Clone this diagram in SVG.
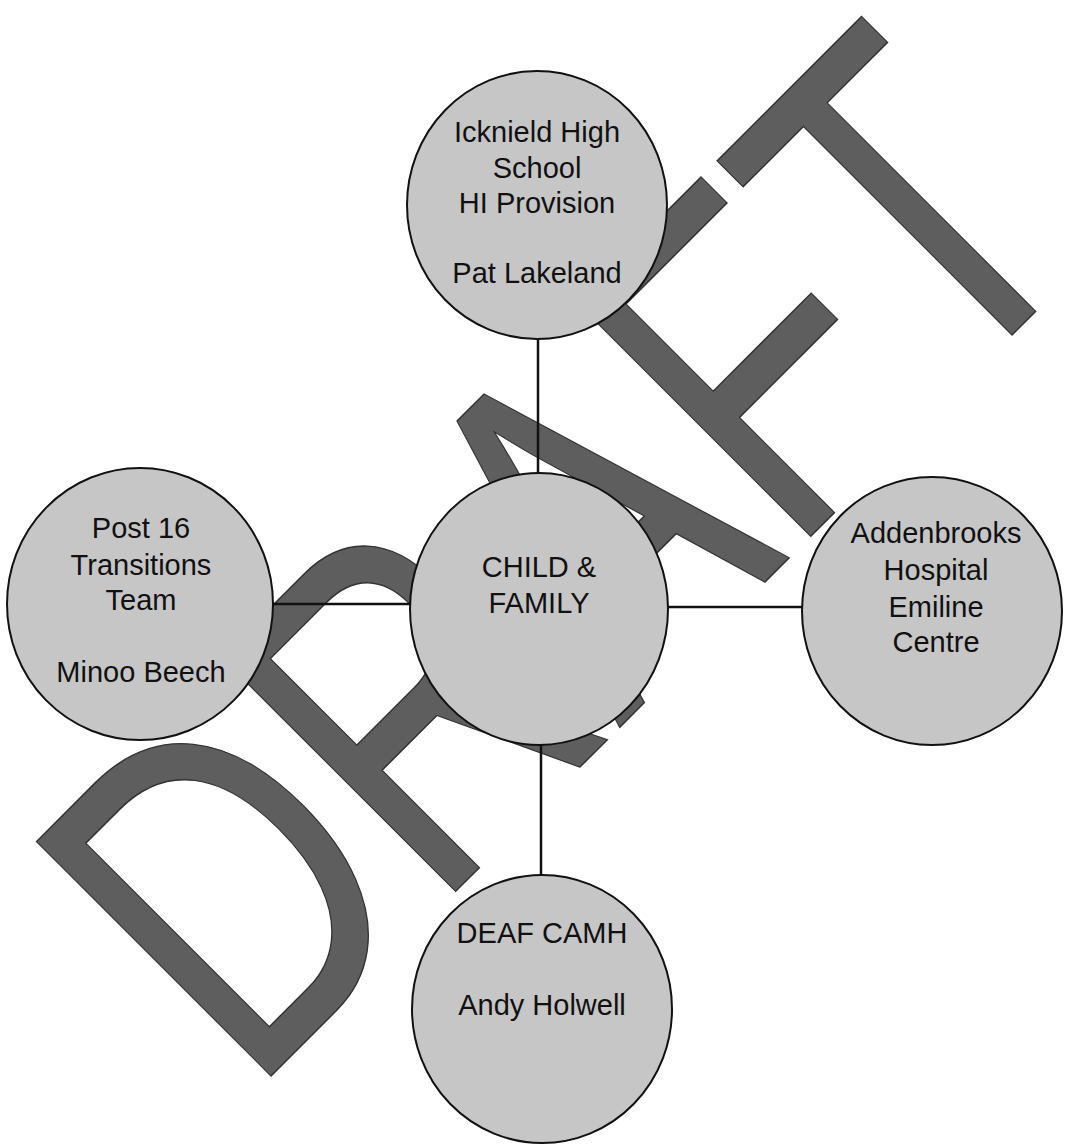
<svg xmlns="http://www.w3.org/2000/svg" width="1067" height="1145" viewBox="0 0 1067 1145">
<style>
.wm{font-family:"Liberation Sans",Arial,sans-serif;fill:#5e5e5e;stroke:#333;stroke-width:1.5}
.node{fill:#c6c6c6;stroke:#111;stroke-width:2}
.lbl{font-family:"Liberation Sans",Arial,sans-serif;font-size:29px;fill:#111;text-anchor:middle}
.conn{stroke:#111;stroke-width:2.5;fill:none}
</style>
<rect width="1067" height="1145" fill="#ffffff"/>
<g id="watermark">
<text class="wm" font-size="482" transform="translate(250,1097) rotate(-45) scale(0.75,1)">DRAFT</text>
</g>
<g id="connectors">
<line class="conn" x1="538" y1="338" x2="538" y2="474"/>
<line class="conn" x1="272" y1="604" x2="411" y2="604"/>
<line class="conn" x1="667" y1="607" x2="803" y2="607"/>
<line class="conn" x1="541" y1="744" x2="541" y2="876"/>
</g>
<g id="node-icknield">
<ellipse class="node" cx="537" cy="205" rx="130" ry="134"/>
<text class="lbl" x="537" y="142">Icknield High</text>
<text class="lbl" x="537" y="178">School</text>
<text class="lbl" x="537" y="213">HI Provision</text>
<text class="lbl" x="537" y="283">Pat Lakeland</text>
</g>
<g id="node-post16">
<ellipse class="node" cx="140" cy="604" rx="133" ry="136"/>
<text class="lbl" x="141" y="538">Post 16</text>
<text class="lbl" x="141" y="575">Transitions</text>
<text class="lbl" x="141" y="610">Team</text>
<text class="lbl" x="141" y="682">Minoo Beech</text>
</g>
<g id="node-child">
<ellipse class="node" cx="539" cy="609" rx="129" ry="136"/>
<text class="lbl" x="539" y="577">CHILD &amp;</text>
<text class="lbl" x="539" y="613">FAMILY</text>
</g>
<g id="node-addenbrooks">
<ellipse class="node" cx="932" cy="611" rx="130" ry="134"/>
<text class="lbl" x="936" y="543">Addenbrooks</text>
<text class="lbl" x="936" y="580">Hospital</text>
<text class="lbl" x="936" y="617">Emiline</text>
<text class="lbl" x="936" y="652">Centre</text>
</g>
<g id="node-deaf">
<ellipse class="node" cx="542" cy="1009" rx="130" ry="134"/>
<text class="lbl" x="542" y="943">DEAF CAMH</text>
<text class="lbl" x="542" y="1015">Andy Holwell</text>
</g>
</svg>
